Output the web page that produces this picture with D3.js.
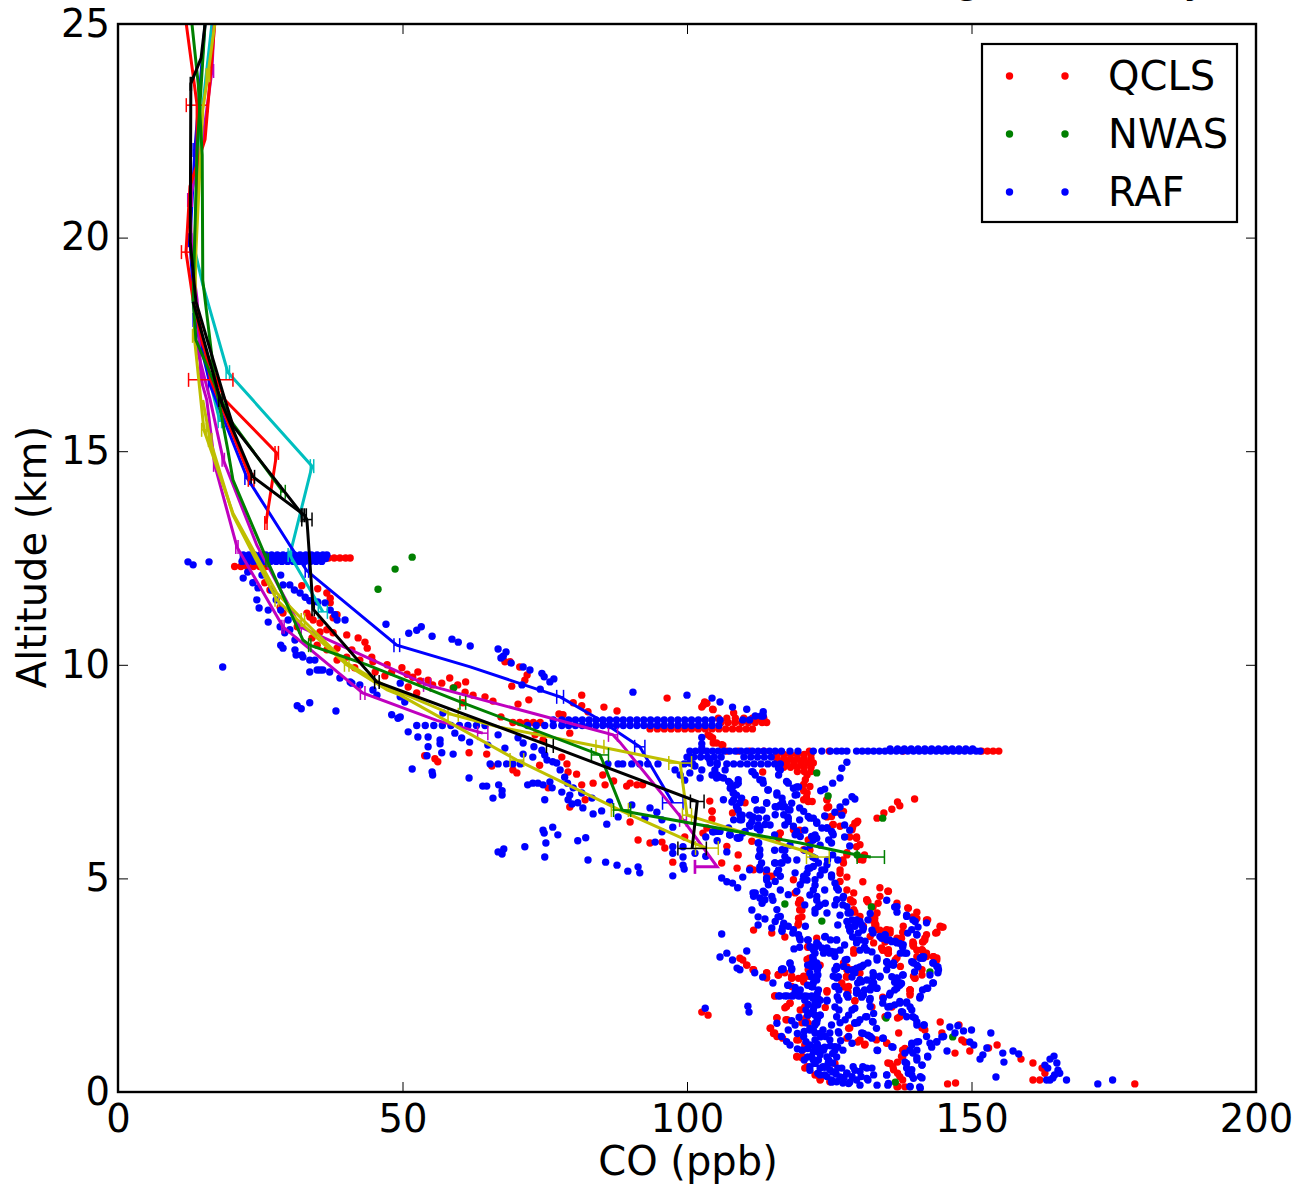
<!DOCTYPE html>
<html><head><meta charset="utf-8">
<script src="https://cdn.jsdelivr.net/npm/d3@7/dist/d3.min.js"></script>
<style>html,body{margin:0;padding:0;background:#fff}svg{display:block}text{font-family:"DejaVu Sans";fill:#000}</style>
</head><body><div id="c"></div>
<script>
const xTicks=[0,50,100,150,200], yTicks=[0,5,10,15,20,25];
const legendNames=["QCLS","NWAS","RAF"];
// flight legs: altitude (km) + CO readings (ppb)
const rafLegs=[
 [12.57,[22,23,24,25,26,27,28,29,30,31,32,33,34,35,36,36.7]],
 [12.49,[22,23,24,25,26,27,28,29,30,31,32,33,34,35,36,36.5]],
 [12.42,[21.8,22.8,23.8,24.8,25.8,26.8,27.8,28.8,29.8,30.8,31.8,32.8,33.8,34.8,35.8]],
 [8.58,[52.5,54,55.5,57,58.5,60,61.5,63,64.5,72,73.5,75,76.5,78,79.2,80.4,81.6,82.8,84,85.2,86.4,87.6,88.8,90,91.2,92.4,93.6,94.8,96,97.2,98.4,99.6,100.8,102,103.2,104.4,105.6]],
 [8.71,[76.5,78,79.2,80.4,81.6,82.8,84,85.2,86.4,87.6,88.8,90,91.2,92.4,93.6,94.8,96,97.2,98.4,99.6,100.8,102,103.2,104.4,105.8,109.8,111]],
 [8.8,[112,113,113.4]],
 [7.98,[100.5,101.5,102.5,103.5,104.5,105.5,106.5,107.5,108.5,109.5,110.5,111.5,112.5,113.5,114.5,115.5,116.6,118.1,119.5,122.2,123.7,125.2,126.3,127.2,128.1,129.8,130.8,131.8,132.8,133.8,134.8,135.8,136.8,137.8,138.8,139.8,140.8,141.8,142.8,143.8,144.8,145.8,146.8,147.8,148.8,149.8,150.8,151.5]],
 [8.03,[135.7,137,138.2,139.4,140.6,141.8,143,144.2,145.4,146.6,147.8,149,150.2]],
 [7.84,[100,101.2,102.4,103.6,104.8,106,110,111.2,112.4,113.6,114.8]],
 [7.68,[65.4,66.8,68.3,69.4,70.7,86.1,87.9,88.7,90.3,91.7,93.1,94.9,99.5,101,107,108.2,109.4,110.6,111.8,113,114.2,115.4,116.4]]
];
const qclsLegs=[
 [12.3,[20.5,21.6,22.7,23.8,24.9,26]],
 [12.5,[26,27.5,29,30.5,32,33.5,35,36,37,38,39,40,40.8]],
 [8.65,[69.4,70.6,71.8,73,74.2,106,107.2,108.4,109.6,110.8,112,113.2,114]],
 [8.5,[93.5,94.8,96,97.2,98.4,99.6,100.8,102,103.2,104.4,105.6,106.8,108,109.2,110.4,111.5]],
 [8.75,[105.5,107,108.5,110,111.5,112.5,113.5]],
 [7.98,[107,109,111,113.5,121.5,125,138,151.8,152.8,153.8,154.8]],
 [7.9,[115.8,117,118.2,119.4,120.6,121.8]],
 [7.8,[115.8,117,118.2,119.4,120.6,121.8]],
 [7.7,[116.4,117.6,118.8,120,121.2,122.2]],
 [7.6,[117,118.2,119.4,120.6,121.8]],
 [7.5,[119.4,120.6,121.8]]
];
const rafUpper=[[12.3,12.41],[13.2,12.34],[16,12.41],[18.4,9.95],[22,12.03],[23.7,11.92],[24.6,11.8],[24.4,11.52],[24.8,11.33],[26.4,11.28],[26.4,11],[28.5,10.89],[29.3,10.75],[28.6,10.46],[29,10.39],[31.1,10.35],[31.3,10.23],[32.3,10.23],[33.7,10.11],[33.7,9.83],[34.6,10.11],[35.5,9.88],[37.2,9.83],[39,9.69],[40.8,9.6],[22.8,12.17],[25.3,12.1],[27,11.75],[27.8,11.52],[28.6,11.28],[29.9,11.05],[30.2,10.82],[31.1,10.58],[28.6,12.1],[29,11.87],[30.2,11.87],[31,11.75],[32,11.68],[32.9,11.58],[33.7,11.5],[35.1,11.47],[36.4,11.45],[37.3,11.28],[38.1,11.17],[38.5,11.05],[39.9,11.05],[47.1,10.95],[51.1,10.74],[52.5,10.81],[53.3,10.89],[55.2,10.67],[58.7,10.6],[59.8,10.53],[61.9,10.44],[31.5,9.04],[32.2,8.97],[33.7,9.11],[38.3,8.92],[66.8,10.37],[68.2,10.3],[67.7,10.2],[67.3,10.16],[69.1,10.04],[71.2,9.95],[72.4,9.88],[74.5,9.8],[74.9,9.72],[76.6,9.67],[75.9,9.6],[74.2,9.43],[71,9.53],[90.5,9.36],[100,9.29],[104.4,9.22],[105.8,9.13],[108,9.01],[110.5,8.96],[113.4,8.9],[32.5,10.18],[35,9.88],[36,9.88],[41.1,9.57],[42.5,9.53],[44.8,9.41],[45.5,9.29],[49.6,9.57],[49.6,9.25],[50.4,9.13],[57.1,8.87],[48.1,8.83],[49.2,8.75]];
const rafMid=[[49.6,8.78],[51,8.43],[52.7,8.31],[54.5,8.31],[54.5,8.08],[56.6,8.24],[56.6,8.15],[56.9,7.94],[58.9,7.91],[54.3,7.87],[51.7,7.56],[55.2,7.49],[55.3,7.42],[61.7,7.35],[64.1,7.16],[64.8,7.16],[66.9,7.19],[67.5,7.05],[67.5,6.95],[65.9,6.88],[61.8,8.19],[60.4,8.29],[59.2,8.4],[65,8.12],[66.8,8.36],[68,8.05],[71.2,8.17],[70.3,8.29],[71.2,7.91],[72.9,7.84],[73.1,8.08],[74.5,8],[75,7.89],[75.4,7.77],[76.4,7.73],[77.1,7.7],[77.7,7.54],[78.5,7.37],[79,7.23],[80,7.12],[79.4,6.95],[79.1,6.84],[79.8,6.74],[81.5,7],[80.8,6.77],[81.7,6.65],[83.3,6.88],[75,6.84],[72,7.19],[72.9,7.23],[73.8,7.23],[74.7,7.19],[75.9,7.26],[76.3,7.12],[78,7.02],[74.7,6.13],[74.9,6.06],[76.4,6.2],[77.3,6.02],[75.2,5.83],[71.5,5.74],[67.8,5.69],[66.8,5.62],[67.5,5.57],[75,5.5],[80.8,5.88],[82.2,5.95],[82.6,5.43],[85.7,5.38],[87.7,5.31],[89.6,5.17],[91.4,5.27],[91.7,5.13],[83.5,6.51],[85,6.58],[85.9,6.27],[87.9,6.44],[86.4,6.79],[90.3,6.72],[92.6,6.41],[93.5,6.65],[94.7,6.55],[95.6,6.37],[97.5,6.2],[95.6,6.09],[94.4,5.85],[97.5,5.74],[99.3,5.74],[97.5,5.59],[99.3,5.5],[99.3,5.31],[99.5,5.22],[97.5,5.06],[101.4,5.59],[103.3,5.52],[105.3,5.88],[103.3,5.97],[107,5.62],[104.7,6.09],[107.5,6.02],[109.3,5.95],[102.6,8.3],[102.6,8.15],[102.6,8.05],[100.5,7.85],[100.5,7.7],[100.5,7.47],[102.6,7.54],[104,7.77],[105.3,7.66],[105.3,7.42],[106.7,7.54],[102.3,7.35],[101.4,7.63],[98.8,7.42],[97.9,7.54],[99.6,7.3],[108,7.14],[109,7.23],[108.7,6.95],[107.9,6.79],[109,6.6],[109.3,6.37],[112,6.84],[111,6.48],[113.2,6.6],[112.5,6.25]];
const rafTracksHigh=[[105.3,7.7],[105.8,7.37],[107.6,7.23],[108.1,7],[109.3,6.77],[109.7,6.48],[111.6,7.49],[113.3,7.3],[114.2,7.07],[115.8,6.95],[116.8,6.67],[117.7,6.44],[119.8,6.65],[121.6,6.41],[122.8,6.32],[124.6,6.18],[125.6,6.06],[125.4,5.83],[128.1,7.72],[127.2,7.58],[126.9,7.35],[125.6,7.23],[124.2,7.09],[123.5,7.05],[129,6.91],[129.5,6.86],[127.9,6.79],[126.9,6.67],[126,6.55],[124.2,6.46],[119.3,7.14],[119,6.95],[116.8,6.77],[115.8,6.67],[114,6.77],[111.9,6.84],[112.3,6.6],[111.6,6.44],[111,6.25],[109.8,6.06],[108.8,5.95],[107.5,6.02],[104.5,6.09],[124.2,5.2],[125.4,5.03],[126.3,4.78],[127.4,4.54],[128.6,4.21],[129.8,4.03],[130.9,3.79],[130.4,3.56],[131.6,3.32],[133.4,3.09],[132.7,2.69],[122.1,5.5],[121.6,5.24],[121.1,4.96],[122.8,4.49],[122.5,4.19],[123.4,5.78],[124.7,5.43],[122.5,6.02],[120.7,5.66],[121.6,5.78],[123.4,5.08],[122.5,4.84],[124.2,4.73],[121.6,4.61],[123.4,4.38],[120.7,4.38],[112.5,5.83],[112.8,5.55],[112.8,5.27],[114,4.96],[113.7,4.66],[115.1,4.49],[116,4.1],[116.8,3.86],[118.6,3.72],[119.8,3.6],[121.2,3.56],[122.8,3.49],[124.2,3.63],[126.3,3.56],[111,5.2],[108.9,4.78],[108,4.89],[107,4.92],[106.1,5.01],[109.8,5.03],[111.6,4.66],[113.2,4.42],[115.4,5.36],[115.8,5.13],[116.5,5.36],[117.7,5.43],[119.3,5.43],[119,5.13],[120.4,4.96],[111.4,4.26],[112.5,4.1],[112.5,3.91],[113.7,4.05],[114.9,3.84],[116.7,3.79],[112.8,6.13],[114.6,6.25],[115.4,6.02],[117.2,6.25],[119,6.02],[118.1,5.78],[120.7,6.13],[119.8,6.37],[115.4,5.66],[117.2,5.66],[118.1,6.6],[127.2,6.48],[127.7,6.25],[128.6,6.13],[127.7,5.97],[128.6,5.76],[125.6,5.55],[126.5,5.43]];
const rafBody=[[104.1,7.7],[104.9,7.54],[104.4,7.42],[105.2,7.35],[106.4,7.35],[107.3,7.27],[107.6,7.11],[108.2,7],[109,7.31],[108.7,7.19],[106.4,6.84],[108.2,6.84],[108.7,6.68],[109.6,6.88],[109.3,6.49],[109.6,6.37],[108.2,6.37],[107.3,6.18],[107.6,6.02],[105.8,6.1],[105.2,6.1],[111.4,7.5],[112,7.42],[112.8,7.31],[113.4,7.23],[114.3,7.07],[115.8,7],[116.7,6.88],[116.4,6.72],[115.5,6.68],[117.2,6.68],[117.8,6.61],[118.4,6.76],[119.3,6.96],[118.7,7.11],[119.6,7.14],[117.5,7.27],[117.8,7.23],[116.1,7.42],[116.4,7.54],[116.1,7.58],[120.5,6.57],[121.3,6.45],[122.2,6.41],[122.8,6.29],[123.7,6.18],[124.6,6.18],[125.4,6.1],[125.7,6.02],[124.9,5.9],[122.8,5.94],[122.2,5.9],[121.9,5.98],[112,6.84],[114,6.76],[115.5,6.49],[114,6.41],[112.6,6.41],[111.4,6.33],[111.1,6.22],[110.2,6.1],[109,5.94],[112.8,6.18],[113.7,6.26],[112.3,6.18],[117,6.49],[117.8,6.41],[119.3,6.1],[119.9,5.98],[117.8,6.33],[118.7,6.22],[112.6,5.83],[112.8,5.67],[112.6,5.51],[113.1,5.36],[112.8,5.2],[114,5.2],[115.5,5.36],[116.1,5.2],[116.4,5.05],[115.5,4.93],[114,5.01],[114.3,4.85],[113.4,4.7],[112,4.66],[111.7,4.58],[112.8,4.54],[113.7,4.5],[114.9,4.58],[116.4,4.73],[117.8,4.62],[119.3,4.7],[116.7,5.67],[117.2,5.51],[116.7,5.36],[119.9,4.85],[120.5,5.05],[121.1,5.12],[122.2,5.28],[122.5,5.47],[121.3,5.24],[123.1,5.36],[123.7,5.2],[124.6,5.32],[125.4,5.08],[126,4.89],[126.6,4.73],[127.5,4.58],[126.3,4.5],[122.5,4.97],[122.2,4.73],[122.8,4.58],[123.1,4.34],[122.5,4.27],[124.3,4.42],[124.6,4.19],[128.1,4.34],[128.7,4.19],[129,4.03],[129.5,3.88],[130.4,3.99],[131,3.84],[130.1,3.72],[128.4,3.88],[128.1,3.99],[128.7,3.76],[129.8,3.56],[131.3,3.53],[115.8,4.27],[116.4,4.11],[115.5,3.99],[117,3.95],[117.8,3.88],[116.7,3.76],[118.7,3.8],[119.6,3.68],[119.9,3.56],[120.8,3.88],[121.3,3.56],[124.3,3.64],[125.2,3.56],[126.3,3.56],[125.4,3.29],[126,3.17],[136.9,4.34],[138.6,4.11],[140.1,3.99],[139.5,3.8],[140.4,3.68],[138,3.45],[136.6,3.53],[135.1,3.56],[134.2,3.6],[137.5,3.25],[139.8,3.02],[141,3.13],[141.6,3.17],[143.3,3.02],[143.9,2.94],[144.2,2.86],[143.3,2.55],[142.1,2.43],[141,2.24],[137.5,2.55],[136.6,2.63],[135.4,2.98],[136.3,3.02],[133.9,2.71],[132.8,2.55],[132.2,2.39],[130.4,2.63],[129.3,2.86],[128.1,3.1],[127.5,2.94],[129.8,2.31],[128.1,2.28],[126.3,2.94],[125.7,2.71],[126,2.47],[122.8,3.02],[122.8,2.71],[121.9,2.47],[124,3.25],[124.6,3.37],[122.2,3.33]];
const rafColumns=[[121.6,3.4],[123.1,3.44],[122.5,3.25],[121.9,3.01],[123.1,2.93],[121.6,2.78],[122.8,2.62],[121.9,2.47],[123.1,2.39],[122.5,2.08],[121.6,1.84],[123.4,1.8],[122.5,1.61],[121.6,1.49],[123.4,1.37],[122.5,1.22],[124.3,1.3],[125.1,1.22],[126,1.06],[124,.98],[121.9,.83],[123.1,.75],[124.8,.67],[122.5,.67],[121.6,.59],[123.4,.56],[125.1,.52],[127.2,.56],[128.1,.44],[129.2,.59],[130.4,.48],[131.6,.56],[132.8,.4],[131.6,.32],[129.8,.28],[128.4,.2],[126.3,.24],[125.4,.28],[123.4,.4],[124.6,.36],[126,2.86],[126.6,2.7],[126.3,2.47],[126.4,2.23],[126,1.99],[126.3,1.76],[125.4,1.57],[126.6,1.41],[116.1,2.25],[117.2,2.25],[118.4,2.25],[119.6,2.25],[120.7,2.25],[121.9,2.25],[123.1,2.18],[124.6,2.15],[119,2.45],[119.9,2.39],[120.7,2.15],[119.7,1.75],[117.8,1.45],[119.4,1.37],[120.5,1.3],[116.6,1.3],[117.5,1.18],[118.1,1.1],[119.4,1.01],[115.8,1.61],[118.4,1.67],[119,1.57],[116.9,2.88],[118.1,3.01],[118.4,2.89],[117.8,2.5],[116.6,2.86],[129,1.92],[129.5,1.96],[128.4,1.8],[127.8,1.69],[129.5,1.61],[130.4,1.69],[131.4,1.76],[132.8,1.84],[132.2,2],[132.6,1.65],[133.3,1.49],[131,1.37],[132.2,1.3],[128.4,1.3],[129,1.14],[134.5,1.26],[136,1.06],[133.5,.97],[140.7,1.18],[139.5,1.14],[138.3,.91],[139.2,.98],[140.4,.98],[138.6,.67],[140.4,.75],[141.3,.63],[138.9,.44],[139.5,.52],[139.8,.32],[141,.36],[139.2,.13],[141,.09],[135.1,.4],[135.4,.2],[132.2,4.18],[133.9,3.64],[134.8,3.67],[136,3.52],[137.4,3.48],[138.3,3.25],[139.5,3.05],[140.4,2.97],[141.5,3.13],[135.1,3.05],[136.3,2.97],[136,2.7],[136.9,2.66],[138,2.74],[135.7,2.31],[136.9,2.43],[137.7,2.54],[134.5,2.19],[135.7,2],[137.4,2.12],[138.6,2.08],[139.5,1.92],[137.7,1.88],[138.6,1.76],[140.1,1.73],[140.4,1.57],[141.7,1.57],[142.1,1.3],[142.7,1.14],[143.9,1.18],[145.1,1.3],[128.1,2.27],[129.8,2.39],[131,2.27],[132.2,2.43],[133.3,2.43],[132.2,2.19],[131.6,2.62],[130.7,2.58],[132.8,2.74],[133.9,2.7],[129.2,2.82],[130.4,2.93],[131,2.97],[127.8,3.09],[126.3,2.89],[122.2,3.1],[122.9,2.85],[122.2,2.55],[122.9,2.3],[122.2,1.92],[122.9,1.7],[122.2,1.45],[122.9,1.12],[122.2,.95],[122.9,.95],[122.2,.75],[123.6,1.02],[124.6,.82],[124.2,.58],[126.2,.42],[127.6,.34],[129,.36],[130.6,.36],[120.8,1.62],[120.6,1.42],[120.9,1.18],[121.2,1.02],[120.6,.75],[125.6,.9],[125.2,1.08],[127,1.2],[127.4,.98],[121.3,2.05],[120.9,1.92]];
const rafLow=[[103.2,1.96],[110.5,3.3],[109.3,2.86],[111.9,2.79],[113.3,2.69],[115.1,2.55],[116.7,2.88],[118.1,3.02],[118.4,2.86],[117.7,2.5],[119,2.34],[116.3,2.25],[117.6,2.25],[118.6,2.25],[119.8,2.25],[121.1,2.24],[122.1,2.2],[123.4,2.15],[124.6,2.13],[110.7,2.01],[110.9,1.87],[121.9,3.39],[122.5,3.39],[122.1,3.16],[121.9,2.93],[121.9,2.69],[122.1,2.46],[122.3,1.99],[122.5,1.8],[122.8,1.62],[122.5,1.38],[123.4,1.29],[123.9,1.45],[125.1,1.38],[124.2,1.05],[122.5,1.05],[121.9,.82],[121.2,.82],[122.5,.68],[123.9,.59],[125.6,.47],[126.9,.35],[125.4,.23],[128.1,.44],[129.5,.51],[130.9,.59],[132.5,.56],[133.4,.16],[131.8,.28],[130.4,.16],[128.6,.23],[127.4,.21],[121.2,2.97],[123,2.74],[121.2,2.5],[123,2.04],[121.2,1.8],[123.4,1.8],[121.6,1.45],[121.6,1.1],[123.4,.87],[121.6,.51],[123,.44],[124.9,.75],[126,.98],[124.2,.4],[126.5,.56],[122.5,1.57],[120.2,.98],[126.3,2.9],[126.3,2.67],[126.7,2.39],[126.7,2.15],[126.7,1.92],[126.9,1.62],[126.7,1.38],[126.5,1.05],[126.3,.82],[125.6,.68],[119.8,3.39],[118.8,3.35],[125.1,3.25],[123.7,3.37],[126,3.28],[129.8,2.9],[128.3,2.86],[129.5,2.79],[130.7,2.93],[129,2.69],[130,2.55],[131.2,2.39],[130,2.34],[130.7,2.22],[132.1,2.15],[128.3,2.22],[132.7,2.79],[133.9,2.69],[132.5,2.55],[133.4,2.43],[135.1,3.04],[136.2,2.97],[135.1,2.86],[136.9,2.67],[136.5,2.57],[137.9,2.74],[137.4,2.5],[136.5,2.39],[135.6,2.27],[134.4,2.08],[135.3,1.99],[136.5,2.04],[137.4,2.08],[138.6,2.11],[139.2,1.99],[135.3,1.8],[139.7,1.76],[140.4,1.64],[141.6,1.57],[137.9,1.87],[136.2,1.05],[134.4,1.26],[139.5,1.1],[140.4,1.17],[139.7,.91],[140.4,.8],[141.3,.63],[142.3,.82],[145.7,.96],[138.3,.7],[138.6,.56],[139.5,.4],[141.3,.33],[140.9,.12],[139.2,.12],[135.1,.4],[135.3,.16],[133.4,.98],[132.5,1.26],[131.8,1.33],[130.7,1.38],[132.7,1.64],[131.6,1.76],[130,1.62],[129.5,1.62],[138.6,4.14],[139.7,4.03],[140.6,3.86],[142.1,3.96],[138.8,3.72],[140.4,3.68],[134.8,3.68],[135.6,3.56],[136.9,3.49],[137.9,3.39],[138.6,3.25],[139.7,3.04],[141.3,3.16],[140.6,2.93],[140,2.81],[142.7,2.74],[143.2,3.02],[144.1,2.93],[144.1,2.79],[143.2,2.55],[142.3,2.43],[141.4,2.39],[140.9,2.2],[132.7,3.72],[131.2,3.39],[132.5,3.28],[133.4,3.14],[131.8,3.02],[130.4,3.32],[129.8,3.49],[129.1,3.63],[135.1,4.49],[136.5,4.33],[136.9,4.21],[127.4,4.38],[128.3,4.19],[129.5,3.91],[130.7,3.91],[131.8,4.03],[132.5,3.79],[126.9,4.14],[126,4.38],[126.5,3.91],[128.6,3.79],[127.7,3.44],[126.9,3.32],[146.2,1.52],[147.6,1.55],[147.1,1.38],[144.8,1.29],[143.9,1.17],[143,1.05],[148.6,1.43],[150,1.45],[149.7,1.17],[150.4,1.1],[153.4,1.38],[152.7,1.03],[152,.87],[151.5,.77],[155.5,.91],[155.7,.7],[157.3,.96],[158.3,.89],[154.3,.35],[142.3,.84],[164.5,.84],[163.8,.77],[162.9,.63],[165,.68],[163.4,.56],[165.2,.51],[164.6,.4],[165.5,.44],[163.8,.28],[163.2,.28],[164.3,.33],[166.7,.28],[172.2,.19],[174.8,.28],[105.8,3.16],[107,3.25],[108,3.09],[108.8,2.9],[106.1,3.7]];
const qclsUpper=[[32.3,11.85],[35.1,11.78],[36.7,11.68],[37.3,11.56],[37.3,11.45],[38.5,11.17],[37.8,11.1],[34.3,11.05],[33.2,11.21],[33.7,11.12],[35.5,10.98],[36.7,10.82],[37.8,10.75],[40.2,10.7],[42.2,10.63],[43.4,10.53],[43.8,10.39],[44.6,10.18],[44.8,10.07],[47.3,10],[48.1,9.83],[51,9.48],[52.5,9.34],[46.9,9.74],[34.1,10.63],[35,10.46],[36.7,10.35],[38.5,10.39],[31.5,10.89],[38.5,10.11],[40.2,10.18],[60.6,9.11],[25.8,11.92],[26.7,11.75],[28.5,11.35],[29,11.21],[35.5,10.77],[41.1,10.35],[42.5,10.11],[41.6,9.93],[45.2,9.83],[49.9,9.93],[50.8,9.78],[51.8,9.71],[52.7,9.83],[53.1,9.62],[54.5,9.64],[55.3,9.53],[56.9,9.57],[58.3,9.69],[59.7,9.53],[61.1,9.6],[58.9,9.46],[61,9.36],[62.4,9.29],[64.5,9.25],[65.9,9.15],[67.3,8.78],[70.3,9.08],[72.2,9.18],[69.2,9.5],[70.6,9.95],[71.9,9.76],[71.5,9.64],[68,10.07],[68.9,10.07],[77.5,8.85],[78.2,8.83],[80,9.11],[81.5,9.29],[81.5,9.04],[82.6,8.9],[85.4,9.01],[87.7,8.92],[96.5,9.22],[102.6,9.01],[103.1,9.13],[104.5,8.96]];
const qclsMid=[[74.7,8.24],[73.3,8.36],[79.4,8.4],[78,7.84],[78.9,7.68],[80.6,7.44],[79.1,7.49],[74.1,7.65],[69.4,7.54],[70.1,7.47],[61.7,7.94],[64.8,7.91],[53.9,7.87],[55.7,7.8],[56.2,7.73],[65.7,7.63],[81.5,7.19],[83.5,7.23],[85.6,7.19],[87.1,7.28],[85.2,7.42],[89.4,7.16],[90,7.23],[91.2,7.19],[92.2,7.19],[82.1,6.84],[79.4,6.67],[75.6,7.12],[90,6.32],[91.4,5.9],[93.5,5.83],[95.6,5.85],[96.1,5.71],[97.5,5.38],[99.6,5.97],[102.8,6.06],[104,6.81],[104.4,6.58],[104.4,6.39],[106.1,5.36],[108.8,5.24],[109,5.55],[108,6.53],[110.2,6.77],[113.3,7.49],[106.3,8.12],[104.5,8.29],[103.7,8.36],[121.1,7.42],[120.5,7.2],[120.5,7.05],[121,6.9],[122,6.8],[124.6,6.84],[124.6,6.65],[124.6,6.44],[125.6,6.25],[129.1,6.2],[129.8,6.3],[130,6.34],[128.6,5.97],[129.8,5.97],[129.8,5.74],[128.1,5.6],[127.4,5.43],[126.9,5.2],[130.9,5.43],[131.2,5.55],[133.4,6.41],[134.6,6.53],[136,6.62],[137,6.79],[137.4,6.7],[140,6.86],[116.3,6.06],[119.8,6.13],[122.1,5.9],[121.6,5.66],[128.1,5.03],[130.9,4.92],[133.9,4.78],[135.3,4.7],[131.6,4.49],[133.4,4.19],[133,3.98],[129.1,4.45],[129.5,4.21],[120.8,7.31],[121.6,7.15],[121.1,7],[120.5,6.84],[121.3,6.8],[124.6,6.84],[124.9,6.68],[125.4,6.45],[126.9,6.53],[127.5,6.57],[125.7,6.26],[126.9,6.22],[122.2,5.98],[121.3,5.9],[116.4,6.06],[116.1,5.94],[118.7,6.14],[120.5,5.67],[128.1,5.55],[127.5,5.36],[129.8,5.94],[130.4,5.79],[129,6.14],[129.5,6.29],[130.4,5.44],[131,5.51],[126.9,5.12],[104.1,8.32],[104.6,8.17],[105.2,8.17],[106.1,8.13],[104.6,8.95],[108.2,8.87],[103.5,9.1],[102.9,9.06],[104.4,6.57],[103.5,6.18],[107,5.75],[111.4,5.87],[111.7,5.2],[114,5.12],[114.9,5.05],[111.1,5.24]];
const qclsBody=[[118.7,4.97],[119.6,3.95],[119.6,4.42],[119,4.66],[126.9,4.93],[128.1,4.73],[129.3,4.66],[128.7,4.5],[129.3,4.27],[130.4,4.11],[131.6,4.5],[132.8,4.11],[133.4,3.8],[133.9,4.58],[135.4,4.7],[136.9,4.42],[138,3.88],[135.1,3.8],[135.7,3.72],[137.5,3.56],[139.8,3.41],[141.3,3.33],[140.4,3.17],[142.1,3.17],[143.3,3.17],[144.5,3.88],[134.2,3.37],[135.4,3.33],[132.2,3.64],[132.8,3.49],[131,3.88],[129.3,3.33],[127.2,2.55],[128.1,2.71],[127.5,3.02],[130.4,2.78],[129.3,3.25],[137.5,2.94],[139.2,2.39],[139.8,2.71],[141.3,2.86],[121.3,3.41],[121.1,3.1],[121.3,2.71],[116.1,2.75],[118.4,2.71],[120.5,2.71],[118.4,2.47],[114,2.78],[119.9,4.49],[120.2,4.26],[119.6,4.07],[121.3,3.4],[121.5,3.13],[121.3,2.86],[128.1,2.93],[128,2.7],[128.4,2.47],[129,2.86],[120.5,2.58],[119.6,2.66],[118.4,2.66],[116.1,2.74],[114,2.78],[111.7,2.86],[110.5,2.97],[109.3,3.13],[115.5,2.25],[117.5,2],[118.1,2.08],[119.9,1.92],[124.6,2.37],[124.3,1.98],[129.5,2.14],[120.9,1.72],[121.3,1.61],[115.8,1.74],[117.4,1.69],[114.6,1.49],[115.2,1.37],[115.8,1.3],[119.6,1.22],[120.7,1.1],[120.3,.98],[119.3,.83],[120.2,.83],[120.7,.56],[122.5,.4],[123.4,.3],[125.1,.24],[126,.67],[128.1,1.26],[130.4,1.22],[131.3,1.12],[128.4,1.49],[137.4,1.76],[134.8,1.76],[135.1,1.14],[133.3,1.22],[135.7,.67],[136.3,.52],[137.4,.36],[137.1,.13],[138.3,1.02],[137.7,.83],[139.2,2.39],[139.2,2.31],[140.1,2.66],[141.3,2.74],[141.8,3.56],[141.5,3.52],[144.5,3.87],[143.9,3.73],[142.1,4.01],[138.9,4.3],[140.4,4.06],[137.7,3.6],[139.8,3.48],[136.6,3.09],[135.4,3.25],[134.5,3.32],[143.3,3.17],[143.9,3.09],[141.5,3.29],[140.4,3.32],[133.6,4.42],[135.7,3.79],[133,3.91],[132.2,4.03],[129.2,4.45]];
const qclsLow=[[102.6,1.87],[103.7,1.8],[178.7,.19],[160.8,.28],[162,.28],[162.9,.44],[162.4,.56],[160.8,.68],[158.7,.77],[154.5,1.1],[153,1.03],[144.5,1.64],[147.8,1.57],[147.1,.91],[149.7,.96],[144.8,1.38],[148.3,1.22],[148.8,1.17],[141.8,1.45],[137.2,1.38],[145.8,.19],[147.2,.21],[109.8,3.09],[110.5,2.97],[111.6,2.86],[114,2.79],[114,2.67],[116,2.74],[117.2,2.79],[118.4,2.67],[120.4,2.67],[115.4,2.25],[118.1,2.08],[117.2,1.97],[115.8,1.73],[117.6,1.69],[114.7,1.5],[115.4,1.38],[116.8,1.26],[119.3,1.22],[120.2,1.62],[120.7,1.99],[121.1,1.76],[119.3,.82],[120.2,.8],[121.1,.59],[122.8,.4],[123.4,.28],[124.6,2.34],[129.5,2.13],[128.1,2.69],[128.1,2.86],[127.7,2.46],[128.3,2.34],[111.7,3.79],[114.9,3.72],[117.2,3.63],[119.8,4.49],[119.8,4.26],[120.2,4.1],[119.5,3.91],[121.2,3.39],[122.8,3.6],[123.4,2.97],[131.8,4.45],[132.7,4.33],[133,4.07],[133.2,3.91],[133.9,3.79],[135.1,3.72],[136.9,3.6],[134.4,3.32],[135.3,3.25],[136.9,3.14],[138.8,4.31],[140.4,4.21],[142.1,4.03],[143.9,3.74],[144.8,3.86],[142.1,3.68],[141.4,3.51],[139.7,3.51],[137.9,3.74],[141.3,3.32],[143.9,3.14],[142.1,3.25],[140,2.67],[139.2,2.39],[139.2,2.27],[128.6,1.5],[135.1,1.15],[131.2,1.1],[130,1.17],[137.9,.98],[137.9,.82],[137,.7],[135.3,.68],[136.2,.59],[137,.44],[137.9,.28],[136.9,.12],[138.3,.12],[141.3,1.5],[137,1.73],[132.5,1.99],[134.4,2.22],[136,1.99],[139.7,4.1],[142.3,4.03],[145,3.86],[143.7,3.72],[141.8,3.6],[139.7,3.44],[135.1,3.79],[134.8,3.51]];
const nwasPoints=[[45.7,11.77],[48.7,12.24],[51.7,12.52],[59,9.46],[122.8,7.47],[124.8,6.93],[134.4,6.41],[129.9,5.55],[117.2,4.4],[123.7,4],[132.4,4.33],[142.7,2.81],[135,1.73],[146.7,1.29],[136.6,.23]];
// mean profiles: [CO ppb, altitude km, CO error ppb]
const blueProfile=[[15.3,25,0],[13.5,22.05,.3],[12.65,19.94,.3],[13.5,18.07,.3],[16.2,16.55,.3],[22.7,14.37,.4],[30.2,12.8,0],[33.2,12.2,.3],[49,10.46,.5],[61.9,9.95,0],[77.7,9.25,.6],[84.2,8.75,0],[91.7,8.08,.9],[97.5,6.77,1.8]];
const cyanProfileA=[[16.5,25,0],[14.4,22.5,0],[13.5,19.7,0],[14.9,18.9,0],[19.3,16.85,.3],[34.1,14.65,.3],[30.2,12.57,.3],[36,11.24,.8]];
const cyanProfileB=[[13.5,19.5,0],[13.2,18.5,0],[14.4,17.6,0],[17.9,15.7,.3]];
const redProfileA=[[17,25,0],[15.3,22.3,0],[12.65,21.2,0],[11.95,19.66,.8],[13.2,18.54,0],[14.9,17.49,0],[18.8,16.2,0],[27.9,14.96,.3],[26,13.32,.2]];
const redProfileB=[[12,25,0],[13.9,23.1,1.9],[13.9,21.35,0],[13.2,18.77,0],[16.3,16.67,3.9],[23.4,14.33,.5]];
const magentaProfileA=[[16.9,25,0],[16.5,23.9,.3],[14.9,22.3,0],[12.65,20.88,.4],[13,19.48,0],[13.9,18.54,0],[14.6,16.67,.3],[15.6,16.2,0],[17,14.68,.2],[20.9,12.76,.2],[29,10.89,.2],[43,9.34,.4],[56,8.7,0],[64.1,8.4,.9]];
const magentaProfileB=[[13.5,17.6,0],[16.2,16.2,0],[18.5,14.8,.2],[24.4,12.8,0],[32,10.89,.2],[54.3,9.53,.6],[87,8.36,.8],[88.2,8.19,0],[99.3,6.37,.6],[105.3,5.27,0],[101.4,5.27,.1]];
const yellowProfileA=[[17,25,0],[15.8,23.8,.3],[14.9,23,0],[13.7,19.7,0],[13.4,17.7,.3],[15.1,15.5,.4],[20.2,13.55,0],[27.9,11.68,0],[32.5,11.05,.3],[40.2,10.04,0],[47.3,9.48,0],[58.9,8.83,.9],[67.1,8.54,0],[84.7,8.08,.7],[98.8,7.7,2],[100,6.48,.8],[119.9,5.67,0],[123,5.5,2]];
const yellowProfileB=[[14.9,16.2,0],[16.2,15.26,.3],[20.2,13.51,0],[27.9,11.52,.3],[32.5,10.93,0],[40.2,10,.4],[47.3,9.41,0],[49.6,9.29,0],[70.1,7.77,1.2],[88.2,6.6,1.5],[101,5.83,0],[103.5,5.71,2]];
const greenProfileA=[[13,25,0],[14.1,23.6,0],[14.8,21.93,0],[14.9,19,0],[17,16.67,0],[19.3,15.03,0],[20.2,14.33,0],[26.2,12.45,.2],[32.5,10.58,0],[33.7,10.46,.2],[43.8,10,0],[60.6,9.11,.5],[84.7,7.89,1.5],[85.1,7.77,0],[88.6,6.6,1.5],[90,6.55,0],[119.9,5.83,0],[129.9,5.55,0],[132.3,5.5,2.4]];
const greenProfileB=[[15.3,25,0],[13.9,22.05,0],[13.2,18.54,0],[13.7,17.6,0],[19.7,15.73,0],[29,14.05,.4]];
const blackProfileA=[[15.3,25,0],[14.6,24.2,0],[12.8,23.6,.1],[12.7,19.9,0],[13.7,18.5,0],[18.8,16.2,0],[20.2,15.6,0],[32.5,13.5,.3]];
const blackProfileB=[[13.2,18.5,0],[18,16.2,.3],[23.7,14.4,.3],[32.8,13.5,.3],[33.2,13.4,.9],[34.3,11.3,.2],[45.5,9.6,.4],[75.9,8.1,.6],[101.8,6.8,1.2],[100.9,5.7,2.5]];

const W=1302,H=1186,m={l:118,r:1256,t:24,b:1092};
const x=d3.scaleLinear().domain([0,200]).range([m.l,m.r]);
const y=d3.scaleLinear().domain([0,25]).range([m.b,m.t]);
const svg=d3.select("#c").append("svg").attr("width",W).attr("height",H).attr("viewBox",`0 0 ${W} ${H}`);
svg.append("defs").append("clipPath").attr("id","plot").append("rect").attr("x",m.l).attr("y",m.t).attr("width",m.r-m.l).attr("height",m.b-m.t);
const R=3.7, red="#ff0000",green="#008000",blue="#0000ff",cyan="#00bfbf",mag="#bf00bf",yel="#bfbf00",blk="#000000";
const expand=legs=>legs.flatMap(([alt,cos])=>cos.map(c=>[c,alt]));
const plot=svg.append("g").attr("clip-path","url(#plot)");
function dots(pts,color){plot.append("g").selectAll("circle").data(pts).join("circle")
 .attr("cx",d=>x(d[0])).attr("cy",d=>y(d[1])).attr("r",R).attr("fill",color);}
dots([...expand(qclsLegs),...qclsUpper,...qclsMid,...qclsBody,...qclsLow],red);
dots(nwasPoints,green);
dots([...expand(rafLegs),...rafUpper,...rafMid,...rafTracksHigh,...rafBody,...rafColumns,...rafLow],blue);
const line=d3.line().x(d=>x(d[0])).y(d=>y(d[1]));
function profile(p,color){
 const g=plot.append("g");
 const e=p.filter(d=>d[2]>0);
 g.selectAll("line.e").data(e).join("line").attr("stroke",color).attr("stroke-width",1.5)
  .attr("x1",d=>x(d[0]-d[2])).attr("x2",d=>x(d[0]+d[2])).attr("y1",d=>y(d[1])).attr("y2",d=>y(d[1]));
 [-1,1].forEach(s=>g.selectAll(null).data(e).join("line").attr("stroke",color).attr("stroke-width",1.5)
  .attr("x1",d=>x(d[0]+s*d[2])).attr("x2",d=>x(d[0]+s*d[2])).attr("y1",d=>y(d[1])-7).attr("y2",d=>y(d[1])+7));
 g.append("path").datum(p).attr("d",line).attr("fill","none").attr("stroke",color).attr("stroke-width",3).attr("stroke-linejoin","miter");
}
[[cyanProfileA,cyan],[cyanProfileB,cyan],[blueProfile,blue],[magentaProfileA,mag],[magentaProfileB,mag],[redProfileA,red],[redProfileB,red],[yellowProfileA,yel],[yellowProfileB,yel],[greenProfileA,green],[greenProfileB,green],[blackProfileA,blk],[blackProfileB,blk]].forEach(([p,c])=>profile(p,c));

const fs=40, tickFs=38.5;
function style(g,hide){g.select(".domain").remove();g.selectAll("line").attr("stroke","#000").attr("stroke-width",1);
 g.selectAll("text").attr("font-size",tickFs).attr("font-family","DejaVu Sans").attr("fill","#000");if(hide)g.selectAll("text").remove();}
svg.append("g").attr("transform",`translate(0,${m.b})`).call(d3.axisBottom(x).tickValues(xTicks).tickFormat(d3.format("d")).tickSize(-10).tickPadding(13)).call(g=>style(g,false));
svg.append("g").attr("transform",`translate(0,${m.t})`).call(d3.axisTop(x).tickValues(xTicks).tickSize(-10)).call(g=>style(g,true));
svg.append("g").attr("transform",`translate(${m.l},0)`).call(d3.axisLeft(y).tickValues(yTicks).tickFormat(d3.format("d")).tickSize(-10).tickPadding(8)).call(g=>style(g,false));
svg.append("g").attr("transform",`translate(${m.r},0)`).call(d3.axisRight(y).tickValues(yTicks).tickSize(-10)).call(g=>style(g,true));
svg.append("rect").attr("x",m.l).attr("y",m.t).attr("width",m.r-m.l).attr("height",m.b-m.t).attr("fill","none").attr("stroke","#000").attr("stroke-width",2.4);

svg.append("text").attr("x",688).attr("y",1175).attr("text-anchor","middle").attr("font-size",fs).text("CO (ppb)");
svg.append("text").attr("transform","translate(46,557) rotate(-90)").attr("text-anchor","middle").attr("font-size",fs).text("Altitude (km)");

// legend
const lg=svg.append("g");
lg.append("rect").attr("x",982).attr("y",44).attr("width",255).attr("height",178).attr("fill","#fff").attr("stroke","#000").attr("stroke-width",2.2);
[red,green,blue].forEach((c,i)=>{const yy=76+i*58;
 [1009.5,1065].forEach(px=>lg.append("circle").attr("cx",px).attr("cy",yy).attr("r",R).attr("fill",c));
 lg.append("text").attr("x",1108).attr("y",yy+14).attr("font-size",fs).text(legendNames[i]);});
// title cut off by the top of the picture: only two descenders remain
svg.append("text").attr("x",968).attr("y",-8).attr("text-anchor","middle").attr("font-size",42).text("g");
svg.append("text").attr("x",1196).attr("y",-8).attr("text-anchor","middle").attr("font-size",42).text("y");
</script></body></html>
